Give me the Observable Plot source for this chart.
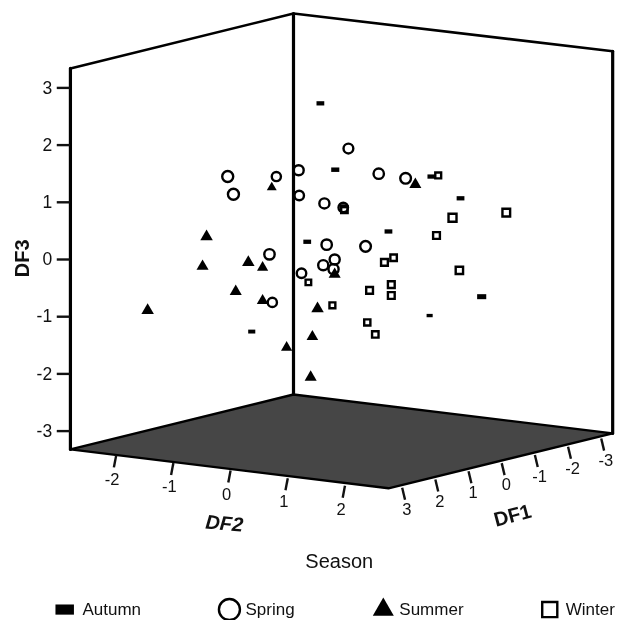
<!DOCTYPE html>
<html><head><meta charset="utf-8">
<style>html,body{margin:0;padding:0;background:#fff} svg{filter:blur(0.45px)}</style>
<script src="https://cdn.jsdelivr.net/npm/d3@7"></script>
<script src="https://cdn.jsdelivr.net/npm/@observablehq/plot@0.6"></script>
</head><body><div id="chart"></div>
<script>
// Each row: across (picture-plane horizontal, in axis units), DF3 (picture-plane), nearness 0..1
const autumn = [[0.47,2.73,.6],[0.73,1.57,.7],[2.41,1.45,.6],[2.92,1.07,.6],[1.66,0.49,.6],[0.24,0.31,.6],[3.29,-0.65,1],[2.38,-0.98,.1],[-0.73,-1.26,.4],[0.87,0.93,.5]];
const spring = [[-1.15,1.45,1],[-1.05,1.14,1],[-0.30,1.45,.4],[-0.42,0.09,.8],[0.09,1.56,.7],[0.10,1.12,.5],[0.14,-0.24,.5],[-0.37,-0.75,.4],[0.96,1.94,.6],[1.49,1.50,.8],[1.96,1.42,.9],[0.54,0.98,.7],[0.87,0.91,.5],[0.58,0.26,.8],[1.26,0.23,.9],[0.72,0,.7],[0.52,-0.10,.7],[0.70,-0.17,.7]];
const summer = [[-0.38,1.26,.3],[-1.52,0.40,.9],[-1.59,-0.12,.8],[-0.79,-0.05,.9],[-0.54,-0.14,.6],[-1.01,-0.56,.8],[-0.54,-0.72,.7],[-2.55,-0.89,.9],[-0.12,-1.54,.6],[0.42,-0.86,.9],[0.33,-1.35,.7],[0.30,-2.06,.8],[2.13,1.31,.8],[0.72,-0.26,.8]];
const winter = [[2.53,1.47,.3],[2.78,0.73,1],[3.72,0.82,.9],[2.50,0.42,.6],[2.90,-0.19,.8],[1.75,0.03,.5],[1.59,-0.05,.6],[1.71,-0.44,.6],[1.33,-0.54,.6],[1.71,-0.63,.6],[0.26,-0.40,.2],[0.89,0.87,.5],[0.68,-0.80,.3],[1.29,-1.10,.4],[1.43,-1.31,.5]];

const df3Ticks = [3,2,1,0,-1,-2,-3];
const df2Ticks = [-2,-1,0,1,2];
const df1Ticks = [3,2,1,0,-1,-2,-3];
const seasons = ["Autumn","Spring","Summer","Winter"];

const corners = {
  leftTop:[-3.90,3.34], backTop:[0,4.30], rightTop:[5.58,3.64],
  rightBottom:[5.58,-3.04], backBottom:[0,-2.36], leftBottom:[-3.90,-3.32], front:[1.66,-4.00]
};

const px = 57.2;
const barSymbol = {draw(c,s){const r=Math.sqrt(s/Math.PI),w=r*1.2,h=r*0.66;c.moveTo(-w,-h);c.lineTo(w,-h);c.lineTo(w,h);c.lineTo(-w,h);c.closePath();}};
const row = a => a.map(([x,y,d]) => ({x,y,d}));
const rr = (lo,hi) => ({value:d => lo+(hi-lo)*d.d, scale:null});
const C = n => corners[n];
const X = {x:d=>d[0], y:d=>d[1]};

const df2At = v => [-1.12+v, -3.69-0.133*v];
const df1At = v => [3.64-0.58*v, -3.56-0.143*v];
const ink = "#111", font = "'Liberation Sans',Arial,sans-serif";
const tickStyle = {stroke:ink, strokeWidth:2.4};
const labelStyle = {fill:ink, fontSize:16.5, textAnchor:"middle", lineAnchor:"middle"};

const legendY = -6.12;
const legendBoxes = [-4.00,-1.12,1.57,4.48];
const legendText = [-3.69,-0.84,1.85,4.76];

const chart = Plot.plot({
  width:618, height:620, margin:0,
  style:{background:"#fff", fontFamily:font},
  x:{domain:[-293/px,325/px], range:[0,618], axis:null},
  y:{domain:[-361/px,259/px], range:[620,0], axis:null},
  marks:[
    // floor
    Plot.line([C("leftBottom"),C("backBottom"),C("rightBottom"),C("front"),C("leftBottom")],{...X,fill:"#464646",stroke:"#000",strokeWidth:2.4}),
    // walls
    Plot.line([C("leftTop"),C("backTop"),C("rightTop")],{...X,stroke:"#000",strokeWidth:2.6}),
    Plot.line([C("leftBottom"),C("leftTop")],{...X,stroke:"#000",strokeWidth:3.2}),
    Plot.line([C("rightTop"),C("rightBottom")],{...X,stroke:"#000",strokeWidth:3.2}),
    Plot.line([C("backTop"),C("backBottom")],{...X,stroke:"#000",strokeWidth:3.2}),
    // DF3 axis
    Plot.ruleY(df3Ticks,{y:d=>d,x1:-4.13,x2:-3.90,...tickStyle}),
    Plot.text(df3Ticks,{x:-4.22,y:d=>d,text:d=>String(d),fill:ink,fontSize:17.5,textAnchor:"end",lineAnchor:"middle"}),
    Plot.text(["DF3"],{x:-4.74,y:0.02,text:d=>d,rotate:-90,fill:ink,fontSize:20,fontWeight:"bold",textAnchor:"middle",lineAnchor:"middle"}),
    // DF2 axis
    Plot.link(df2Ticks,{x1:d=>df2At(d)[0]+0.02,y1:d=>df2At(d)[1],x2:d=>df2At(d)[0]-0.02,y2:d=>df2At(d)[1]-0.21,...tickStyle}),
    Plot.text(df2Ticks,{x:d=>df2At(d)[0]-0.05,y:d=>df2At(d)[1]-0.42,text:d=>String(d),...labelStyle}),
    Plot.text(["DF2"],{x:-1.21,y:-4.62,text:d=>d,rotate:5,fill:ink,fontSize:20,fontWeight:"bold",fontStyle:"italic",textAnchor:"middle",lineAnchor:"middle"}),
    // DF1 axis
    Plot.link(df1Ticks,{x1:d=>df1At(d)[0],y1:d=>df1At(d)[1],x2:d=>df1At(d)[0]+0.05,y2:d=>df1At(d)[1]-0.21,...tickStyle}),
    Plot.text(df1Ticks,{x:d=>df1At(d)[0]+0.08,y:d=>df1At(d)[1]-0.38,text:d=>String(d),...labelStyle}),
    Plot.text(["DF1"],{x:3.83,y:-4.48,text:d=>d,rotate:-15,fill:ink,fontSize:20,fontWeight:"bold",textAnchor:"middle",lineAnchor:"middle"}),
    // points
    Plot.dot(row(autumn),{x:"x",y:"y",r:rr(2.4,3.8),symbol:barSymbol,fill:"#000",stroke:"none"}),
    Plot.dot(row(summer),{x:"x",y:"y",r:rr(3.2,4.8),symbol:"triangle",fill:"#000",stroke:"none"}),
    Plot.dot(row(winter),{x:"x",y:"y",r:rr(2.8,4.5),symbol:"square",fill:"none",stroke:"#000",strokeWidth:2.4}),
    Plot.dot(row(spring),{x:"x",y:"y",r:rr(4,5.5),symbol:"circle",fill:"none",stroke:"#000",strokeWidth:2.4}),
    // title of legend
    Plot.text(["Season"],{x:0.80,y:-5.28,text:d=>d,fill:ink,fontSize:20,textAnchor:"middle",lineAnchor:"middle",style:{letterSpacing:"1px"}}),
    // legend
    Plot.dot([seasons[0]],{x:legendBoxes[0],y:legendY,r:7.7,symbol:barSymbol,fill:"#000",stroke:"none"}),
    Plot.dot([seasons[1]],{x:legendBoxes[1],y:legendY,r:10.5,symbol:"circle",fill:"none",stroke:"#000",strokeWidth:2.4}),
    Plot.dot([seasons[2]],{x:legendBoxes[2],y:legendY,r:7.8,symbol:"triangle",fill:"#000",stroke:"none"}),
    Plot.dot([seasons[3]],{x:legendBoxes[3],y:legendY,r:8.5,symbol:"square",fill:"none",stroke:"#000",strokeWidth:2.4}),
    Plot.text(seasons,{x:(d,i)=>legendText[i],y:legendY,text:d=>d,fill:ink,fontSize:17,textAnchor:"start",lineAnchor:"middle"})
  ]
});
document.getElementById("chart").append(chart);
</script></body></html>
